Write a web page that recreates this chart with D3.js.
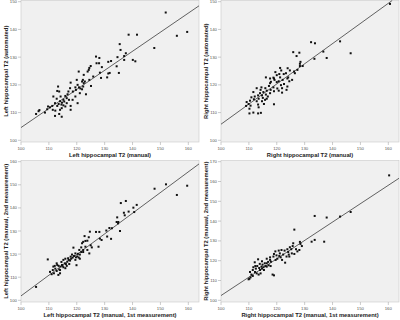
<!DOCTYPE html>
<html>
<head>
<meta charset="utf-8">
<script src="https://cdn.jsdelivr.net/npm/d3@7"></script>
<style>
  body { margin: 0; background: #fff; }
  svg { display: block; }
</style>
</head>
<body>
<div id="chart"></div>
<script>
// panel 1: left manual vs automated
const leftAuto = [
  [105.4,109.5],[151.9,146.1],[138.6,138.1],[141.6,138.1],[155.9,137.7],[159.6,139.1],[147.8,133.3],
  [135.4,134.7],[135.7,132.6],[137.6,131.4],[137.0,130.4],[137.0,129.0],[140.1,129.0],[141.0,128.5],
  [134.6,130.0],[126.9,130.2],[128.1,129.7],[131.3,128.3],[132.3,128.6],[128.0,127.8],[129.0,126.4],
  [125.0,126.8],[124.5,126.1],[124.3,125.4],[134.3,126.7],[131.8,124.3],[131.3,124.1],[135.1,124.3],
  [128.3,124.4],[130.9,122.7],[128.7,122.5],[120.7,124.8],[122.5,123.6],[122.2,121.8],[121.9,121.2],
  [122.5,120.6],[117.8,120.8],[124.5,121.8],[125.1,119.6],[120.3,120.0],[120.8,119.1],[121.3,118.7],
  [121.9,118.4],[119.7,118.2],[118.6,117.6],[123.3,116.6],[118.5,114.6],[117.8,111.0],[120.3,113.4],
  [113.3,119.4],[113.0,117.8],[113.7,117.6],[111.6,115.8],[112.8,115.0],[114.2,115.8],[115.9,116.0],
  [116.7,116.6],[116.4,115.2],[117.2,114.6],[114.0,114.1],[114.7,113.6],[113.5,113.1],[114.5,112.9],
  [115.2,112.6],[113.0,112.4],[112.2,113.4],[111.2,112.4],[110.4,111.9],[109.7,112.2],[109.4,111.2],
  [111.4,111.0],[112.3,110.7],[114.0,111.0],[115.9,112.2],[116.4,113.4],[106.6,110.9],[106.3,110.5],
  [108.6,110.0],[112.2,108.8],[114.6,108.5],[113.7,109.5],[117.8,112.4],[115.2,114.6],[119.5,115.8],
  [121.1,117.0],[122.3,119.4],[122.9,121.2],[120.0,121.8],[127.1,127.8],[125.9,123.0],[123.9,124.8],
  [114.6,111.6],[115.5,114.0],[117.0,117.6],[117.6,118.8],[119.5,119.1]
]
// panel 2: right manual vs automated
const rightAuto = [
  [160.6,149.2],[132.3,135.4],[133.7,135.0],[142.7,135.7],[136.7,132.0],[146.5,131.4],[137.9,129.7],
  [133.5,129.4],[125.9,131.8],[128.1,131.6],[127.1,130.4],[128.5,128.3],[128.3,127.6],[129.3,126.8],
  [127.4,125.4],[126.2,124.8],[123.9,126.0],[124.7,125.2],[123.3,124.2],[121.6,125.2],[122.5,123.9],
  [120.9,123.9],[120.0,123.5],[118.8,122.6],[117.6,122.3],[116.1,122.7],[117.9,121.1],[119.2,121.8],
  [120.7,121.3],[122.1,121.8],[123.8,122.3],[124.5,121.3],[125.5,121.8],[122.6,120.3],[121.5,119.9],
  [123.8,119.4],[120.2,118.7],[118.8,119.1],[117.2,119.6],[115.9,118.8],[114.5,119.1],[112.8,118.8],
  [114.2,118.2],[115.2,117.4],[116.4,117.9],[117.8,118.2],[119.0,117.7],[120.7,117.9],[121.9,117.2],
  [123.5,118.2],[117.6,117.0],[116.1,116.5],[114.7,116.2],[113.3,116.2],[112.1,115.8],[110.9,115.5],
  [111.8,114.8],[113.5,115.0],[115.0,115.3],[116.4,115.0],[112.8,114.1],[110.4,114.3],[109.9,113.1],
  [109.0,112.4],[110.2,111.4],[113.3,112.9],[113.5,111.9],[114.7,114.1],[115.4,113.1],[111.6,110.0],
  [110.2,109.7],[119.0,113.0],[114.3,109.9],[113.3,109.7],[119.0,122.3],[121.2,122.7],[120.0,121.0],
  [117.6,120.6],[126.5,124.2],[119.5,124.6],[121.2,126.1],[124.1,122.7],[121.9,118.8],[114.0,117.0],
  [111.6,117.4],[116.8,115.8],[110.6,112.5],[109.2,113.8],[128.3,126.8],[115.8,114.6]
]
// panel 3: left manual, 1st vs 2nd measurement
const leftRepeat = [
  [105.4,105.8],[109.6,117.7],[110.4,112.3],[111.0,111.3],[111.6,114.6],[112.1,114.9],[112.8,116.0],
  [112.8,112.7],[113.4,111.0],[114.0,111.7],[113.7,113.4],[114.2,114.6],[114.7,115.3],[115.2,114.3],
  [114.5,116.6],[115.7,116.0],[116.1,115.7],[116.6,116.7],[117.1,117.5],[117.6,117.2],[118.0,118.0],
  [118.5,118.5],[118.8,122.8],[119.5,117.5],[119.7,118.6],[120.2,119.0],[120.7,118.5],[119.9,115.2],
  [121.1,119.8],[121.6,120.9],[121.9,124.7],[122.3,125.3],[123.1,125.7],[123.8,125.8],[122.8,127.8],
  [124.3,127.3],[124.7,129.7],[125.0,123.8],[125.4,122.9],[123.8,121.8],[124.5,120.3],[126.9,129.6],
  [128.1,129.6],[128.3,126.7],[128.9,126.1],[127.8,123.2],[130.9,127.6],[130.6,130.2],[131.7,131.3],
  [132.3,126.6],[134.3,133.9],[134.9,133.9],[134.5,135.9],[135.5,130.0],[135.8,142.1],[137.6,143.0],
  [136.9,137.9],[137.2,136.8],[138.6,138.4],[140.3,140.1],[141.5,141.3],[140.6,138.2],[147.9,148.3],
  [152.0,150.2],[155.9,145.6],[159.6,149.6],[115.2,117.5],[115.9,118.0],[116.9,118.2],[117.8,118.9],
  [118.3,119.8],[119.0,119.2],[119.5,120.3],[120.4,120.1],[120.9,121.8],[121.6,122.9],[122.3,121.8],
  [123.1,123.2],[121.1,118.0],[113.5,114.9],[112.3,113.7],[113.0,115.3],[114.9,114.9],[111.4,113.1],
  [111.8,111.7],[116.4,114.9],[117.3,115.7],[115.9,113.9],[114.0,113.1],[122.3,120.9],[134.8,133.3],
  [132.6,131.2]
]
// panel 4: right manual, 1st vs 2nd measurement
const rightRepeat = [
  [160.3,163.1],[133.6,142.6],[137.9,141.8],[142.7,142.3],[146.5,144.6],[126.3,135.7],[132.5,129.6],
  [133.6,130.5],[137.0,129.6],[128.3,129.5],[128.5,128.5],[128.1,125.4],[129.0,127.4],[125.9,128.8],
  [125.7,127.4],[124.7,126.8],[123.8,125.8],[122.8,125.1],[124.1,124.4],[125.4,123.7],[126.9,125.8],
  [121.7,125.4],[120.7,125.1],[119.5,124.7],[121.1,123.7],[122.3,123.1],[119.9,122.7],[118.8,122.1],
  [117.6,121.7],[116.4,121.0],[120.2,121.0],[121.4,121.7],[123.0,119.0],[117.6,120.4],[116.9,119.4],
  [115.7,118.7],[114.7,119.7],[113.3,120.7],[112.1,119.2],[113.9,118.4],[114.5,117.0],[115.2,116.7],
  [115.9,117.3],[113.7,116.3],[112.5,116.0],[113.0,117.3],[114.0,115.3],[111.4,115.3],[112.2,114.3],
  [110.4,114.3],[112.8,113.6],[113.5,113.0],[114.2,113.6],[110.9,113.0],[110.2,110.9],[109.9,110.6],
  [110.6,111.6],[118.5,113.0],[119.0,112.6],[116.4,118.7],[117.9,119.5],[119.6,120.4],[120.9,122.4],
  [123.5,122.1],[124.5,122.1],[126.3,123.4],[127.4,124.7],[121.9,120.4],[114.9,118.0],[115.4,115.3],
  [112.3,117.3],[116.4,117.0],[117.1,117.7],[111.6,116.7],[114.7,116.0],[119.0,123.4],[125.2,125.8],
  [124.3,123.1],[111.4,112.3],[117.8,117.3]
]

const xLabels = ['Left hippocampal T2 (manual)', 'Right hippocampal T2 (manual)',
  'Left hippocampal T2 (manual, 1st measurement)', 'Right hippocampal T2 (manual, 1st measurement)']
const yLabels = ['Left hippocampal T2 (automated)', 'Right hippocampal T2 (automated)',
  'Left hippocampal T2 (manual, 2nd measurement)', 'Right hippocampal T2 (manual, 2nd measurement)']
const yMaxes = [150, 150, 160, 170]
const xTicks = [100, 110, 120, 130, 140, 150, 160]
// fit line: value at x = 100, slope
const fitStart = [104.6, 105.8, 101.9, 102.4]
const fitSlope = [0.688, 0.727, 0.895, 0.928]
const pointSets = [leftAuto, rightAuto, leftRepeat, rightRepeat]

const W = 400, H = 320
const pw = 200, ph = 160
const plot = { left: 21, right: 199, top: 0.5, bottom: 142 }

const svg = d3.select('#chart').append('svg')
  .attr('width', W).attr('height', H)
  .style('font-family', '"Liberation Sans", Arial, sans-serif')

pointSets.forEach((pts, i) => {
  const g = svg.append('g')
    .attr('transform', `translate(${(i % 2) * pw},${Math.floor(i / 2) * ph})`)

  const x = d3.scaleLinear().domain([100, 160]).range([21, 188.3])
  const y = d3.scaleLinear().domain([100, yMaxes[i]]).range([140.3, 1.7])
  const yTicks = d3.range(100, yMaxes[i] + 1, 10)

  g.append('rect')
    .attr('x', plot.left).attr('y', plot.top)
    .attr('width', plot.right - plot.left).attr('height', plot.bottom - plot.top)
    .attr('fill', '#f0f0f0').attr('stroke', '#c8c8c8').attr('stroke-width', 0.6)

  // y ticks
  const yt = g.append('g').selectAll('g').data(yTicks).join('g')
    .attr('transform', (d) => `translate(0,${y(d)})`)
  yt.append('line').attr('x1', plot.left - 3).attr('x2', plot.left)
    .attr('stroke', '#999').attr('stroke-width', 0.5)
  yt.append('text').attr('x', plot.left - 4).attr('dy', '0.35em')
    .attr('text-anchor', 'end').attr('font-size', 4.3).attr('fill', '#555')
    .text((d) => d)

  // x ticks
  const xt = g.append('g').selectAll('g').data(xTicks).join('g')
    .attr('transform', (d) => `translate(${x(d)},0)`)
  xt.append('line').attr('y1', plot.bottom).attr('y2', plot.bottom + 3)
    .attr('stroke', '#999').attr('stroke-width', 0.5)
  xt.append('text').attr('y', plot.bottom + 7.5)
    .attr('text-anchor', 'middle').attr('font-size', 4.3).attr('fill', '#555')
    .text((d) => d)

  // fit line across the plot
  const xEnd = x.invert(plot.right)
  let x2 = xEnd
  let y2 = fitStart[i] + fitSlope[i] * (xEnd - 100)
  const yTop = y.invert(plot.top)
  if (y2 > yTop) {
    x2 = 100 + (yTop - fitStart[i]) / fitSlope[i]
    y2 = yTop
  }
  g.append('line')
    .attr('x1', x(100)).attr('y1', y(fitStart[i]))
    .attr('x2', x(x2)).attr('y2', y(y2))
    .attr('stroke', '#222').attr('stroke-width', 0.7)

  g.append('g').selectAll('rect').data(pts).join('rect')
    .attr('x', (d) => x(d[0]) - 1)
    .attr('y', (d) => y(d[1]) - 1)
    .attr('width', 2).attr('height', 2)
    .attr('fill', '#111')

  g.append('text')
    .attr('x', (plot.left + plot.right) / 2).attr('y', 156.5)
    .attr('text-anchor', 'middle').attr('font-size', 5.8).attr('font-weight', 'bold')
    .attr('fill', '#222')
    .text(xLabels[i])

  g.append('text')
    .attr('transform', `translate(8,${(plot.top + plot.bottom) / 2}) rotate(-90)`)
    .attr('text-anchor', 'middle').attr('font-size', 5.8).attr('font-weight', 'bold')
    .attr('fill', '#222')
    .text(yLabels[i])
})
</script>
</body>
</html>
